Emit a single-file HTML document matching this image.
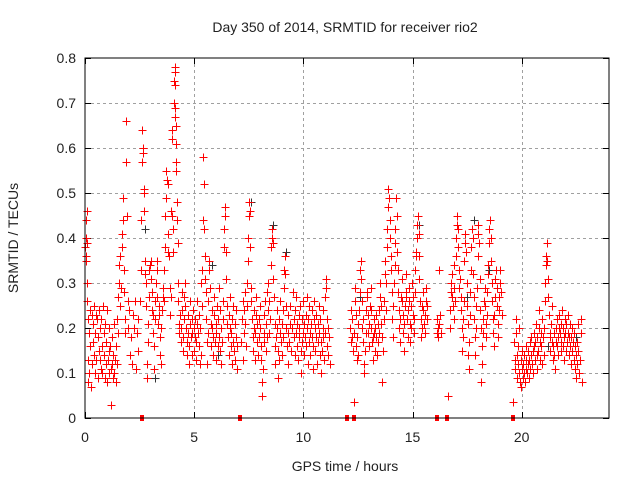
<!DOCTYPE html>
<html><head><meta charset="utf-8">
<style>
html,body{margin:0;padding:0;background:#fff;}
svg{display:block;font-family:"Liberation Sans",sans-serif;}
</style></head>
<body>
<svg id="chart" width="640" height="480" viewBox="0 0 640 480">
  <rect x="0" y="0" width="640" height="480" fill="#fff"/>
  <text x="345" y="32" text-anchor="middle" font-size="14" fill="#222">Day 350 of 2014, SRMTID for receiver rio2</text>
  <text x="345" y="471" text-anchor="middle" font-size="14" fill="#222">GPS time / hours</text>
  <text transform="translate(18,238) rotate(-90)" text-anchor="middle" font-size="14" fill="#222">SRMTID / TECUs</text>
  <g id="grid" shape-rendering="crispEdges"></g>
  <g id="ticks"></g>
  <g id="marks" shape-rendering="crispEdges"></g>
  <rect x="85" y="58" width="524" height="360" fill="none" stroke="#000" stroke-width="1" shape-rendering="crispEdges"/>
</svg>
<script>
const xTicks = [0,5,10,15,20];
const yTicks = [0,0.1,0.2,0.3,0.4,0.5,0.6,0.7,0.8];
const yTickLabels = ["0","0.1","0.2","0.3","0.4","0.5","0.6","0.7","0.8"];
const gapMarks = [2.6,7.1,12.0,12.3,16.1,16.6,19.6];
const blackPoints = [[0.05,.44],[2.75,.42],[3.2,.09],[5.8,.34],[6.1,.14],[7.6,.48],[8.6,.43],[9.2,.37],[12.6,.27],[15.3,.43],[16.2,.33],[17.5,.27],[17.8,.44],[18.5,.33],[21.2,.16],[22.5,.18]];
const redPoints = [
[0.02,.38],[.03,.40],[.05,.36],[.06,.44],[.08,.46],[.04,.35],[.07,.39],[.1,.30],[.1,.26],[.12,.22],[.15,.13],[.15,.08],[.18,.10],[.2,.19],[.22,.24],[.25,.16],[.28,.07],[.3,.12],[.32,.23],[.35,.21],[.38,.17],[.4,.14],[.42,.25],[.45,.19],[.48,.10],[.5,.23],[.52,.13],[.55,.22],[.58,.18],[.6,.09],[.62,.15],[.65,.24],[.68,.20],[.7,.13],[.72,.11],[.75,.22],[.78,.16],[.8,.10],[.82,.25],[.85,.19],[.88,.14],[.9,.09],[.92,.21],[.95,.12],[.98,.17],[1.0,.08],[1.02,.24],[1.05,.13],[1.08,.20],[1.1,.10],[1.12,.15],[1.15,.16],[1.18,.11],[1.2,.03],[1.22,.12],[1.25,.18],[1.28,.09],[1.3,.14],[1.32,.21],[1.35,.10],[1.38,.13],[1.4,.08],[1.42,.16],[1.45,.12],[1.48,.22],[1.5,.19],[1.52,.27],[1.55,.30],[1.58,.34],[1.6,.36],[1.62,.25],[1.65,.29],[1.68,.38],[1.7,.41],[1.72,.44],[1.75,.49],[1.78,.28],[1.8,.33],[1.82,.19],[1.85,.22],[1.88,.57],[1.9,.66],[1.92,.45],[1.95,.26],[1.98,.20],[2.0,.24],[2.05,.14],[2.1,.18],[2.15,.12],[2.2,.23],[2.25,.20],[2.3,.26],[2.35,.11],[2.4,.19],
[2.42,.15],[2.45,.22],[2.5,.26],[2.55,.33],[2.58,.44],[2.6,.57],[2.62,.64],[2.64,.60],[2.66,.59],[2.68,.51],[2.7,.50],[2.72,.46],[2.74,.35],[2.76,.32],[2.78,.30],[2.8,.25],[2.82,.12],[2.85,.09],[2.88,.17],[2.9,.21],[2.92,.27],[2.95,.33],[2.98,.34],[3.0,.35],[3.02,.31],[3.05,.24],[3.08,.28],[3.1,.19],[3.12,.23],[3.15,.16],[3.18,.11],[3.2,.26],[3.22,.22],[3.25,.30],[3.28,.33],[3.3,.35],[3.32,.27],[3.35,.21],[3.38,.25],[3.4,.23],[3.42,.18],[3.45,.14],[3.48,.12],[3.5,.20],
[3.52,.24],[3.55,.27],[3.58,.29],[3.6,.26],[3.62,.33],[3.65,.38],[3.68,.45],[3.7,.49],[3.72,.55],[3.75,.53],[3.78,.52],[3.8,.41],[3.82,.37],[3.85,.36],[3.88,.29],[3.9,.23],[3.92,.27],[3.95,.46],[3.97,.62],[3.99,.64],[4.0,.45],[4.02,.42],[4.04,.37],[4.06,.70],[4.08,.75],[4.1,.78],[4.11,.77],[4.12,.74],[4.13,.69],[4.14,.67],[4.15,.65],[4.16,.61],[4.17,.57],[4.18,.55],[4.2,.48],[4.22,.44],[4.24,.39],[4.26,.30],[4.28,.26],[4.3,.21],[4.32,.19],[4.35,.23],[4.38,.17],[4.4,.20],
[4.42,.28],[4.45,.24],[4.48,.18],[4.5,.15],[4.52,.22],[4.55,.27],[4.58,.30],[4.6,.25],[4.62,.20],[4.65,.17],[4.68,.14],[4.7,.19],[4.72,.23],[4.75,.16],[4.78,.12],[4.8,.21],[4.82,.26],[4.85,.18],[4.88,.14],[4.9,.22],[4.92,.19],[4.95,.24],[4.98,.15],[5.0,.20],[5.02,.18],[5.05,.22],[5.08,.13],[5.1,.17],[5.12,.26],[5.15,.21],[5.18,.19],[5.2,.16],[5.22,.23],[5.25,.12],[5.28,.20],[5.3,.14],
[5.32,.30],[5.35,.33],[5.38,.25],[5.4,.44],[5.42,.58],[5.44,.52],[5.46,.42],[5.48,.36],[5.5,.31],[5.52,.28],[5.55,.22],[5.58,.17],[5.6,.12],[5.62,.19],[5.65,.26],[5.68,.35],[5.7,.33],[5.72,.29],[5.75,.21],[5.78,.16],[5.8,.24],[5.82,.20],[5.85,.14],[5.88,.18],[5.9,.27],[5.92,.23],[5.95,.17],[5.98,.21],[6.0,.13],[6.02,.19],[6.05,.25],[6.08,.16],[6.1,.22],[6.12,.18],[6.15,.29],[6.18,.24],[6.2,.15],[6.22,.20],[6.25,.12],[6.28,.17],
[6.3,.22],[6.32,.26],[6.35,.38],[6.38,.42],[6.4,.47],[6.42,.45],[6.44,.37],[6.46,.31],[6.5,.25],[6.52,.21],[6.55,.18],[6.58,.14],[6.6,.23],[6.62,.27],[6.65,.20],[6.68,.16],[6.7,.19],[6.72,.12],[6.75,.22],[6.78,.25],[6.8,.17],[6.82,.15],[6.85,.21],[6.88,.13],[6.9,.18],[6.92,.24],[6.95,.11],[6.98,.16],
[7.15,.17],[7.2,.22],[7.22,.26],[7.25,.13],[7.28,.19],[7.3,.24],
[7.32,.28],[7.35,.21],[7.38,.16],[7.4,.25],[7.42,.30],[7.45,.35],[7.48,.40],[7.5,.45],[7.52,.48],[7.55,.46],[7.58,.38],[7.6,.29],[7.62,.26],[7.65,.22],[7.68,.18],[7.7,.15],[7.72,.20],[7.75,.24],[7.78,.13],[7.8,.19],[7.82,.23],[7.85,.27],[7.88,.21],[7.9,.17],[7.92,.14],[7.95,.22],[7.98,.18],[8.0,.25],[8.02,.20],[8.05,.13],[8.08,.16],[8.1,.08],[8.12,.05],[8.15,.11],[8.18,.19],[8.2,.23],[8.22,.17],[8.25,.26],[8.28,.21],[8.3,.15],[8.32,.18],[8.35,.28],[8.38,.24],
[8.4,.30],[8.42,.26],[8.45,.19],[8.48,.22],[8.5,.34],[8.52,.38],[8.55,.40],[8.58,.42],[8.6,.39],[8.62,.31],[8.65,.27],[8.68,.21],[8.7,.16],[8.72,.12],[8.75,.18],[8.78,.24],[8.8,.20],[8.82,.15],[8.85,.09],[8.88,.13],[8.9,.22],[8.92,.19],[8.95,.26],[8.98,.17],[9.0,.21],[9.02,.14],[9.05,.24],[9.08,.18],[9.1,.29],[9.12,.33],[9.15,.36],[9.18,.32],[9.2,.25],[9.22,.20],[9.25,.16],[9.28,.12],[9.3,.19],[9.32,.23],[9.35,.17],[9.38,.21],
[9.4,.25],[9.45,.15],[9.5,.20],[9.52,.28],[9.55,.22],[9.58,.18],[9.6,.14],[9.62,.24],[9.65,.19],[9.68,.27],[9.7,.21],[9.72,.16],[9.75,.13],[9.78,.23],[9.8,.18],[9.82,.20],[9.85,.25],[9.88,.15],[9.9,.10],[9.92,.17],[9.95,.22],[9.98,.19],[10.0,.26],[10.02,.21],[10.05,.14],[10.08,.18],[10.1,.23],[10.12,.16],[10.15,.20],[10.18,.27],[10.2,.22],[10.22,.12],[10.25,.17],[10.28,.25],[10.3,.19],[10.32,.14],[10.35,.21],[10.38,.24],[10.4,.18],[10.42,.11],[10.45,.16],[10.48,.22],[10.5,.26],[10.52,.20],[10.55,.15],[10.58,.18],[10.6,.23],[10.62,.12],[10.65,.17],[10.68,.21],[10.7,.25],[10.72,.19],[10.75,.14],[10.78,.22],[10.8,.17],[10.82,.10],[10.85,.15],[10.88,.20],[10.9,.24],[10.92,.18],[10.95,.13],[10.98,.19],[11.0,.27],[11.02,.29],[11.05,.31],[11.08,.22],[11.1,.16],[11.12,.20],[11.15,.14],[11.18,.18],[11.2,.12],
[12.15,.20],[12.18,.17],[12.2,.24],[12.22,.18],[12.25,.22],[12.28,.15],[12.3,.035],[12.32,.19],[12.35,.26],[12.38,.29],[12.4,.23],[12.42,.16],[12.45,.13],[12.48,.18],[12.5,.21],[12.52,.14],[12.55,.24],[12.58,.28],[12.6,.33],[12.62,.35],[12.65,.31],[12.68,.26],[12.7,.20],[12.72,.22],[12.75,.17],[12.78,.12],[12.8,.10],[12.82,.15],[12.85,.19],[12.88,.24],[12.9,.28],[12.92,.27],[12.95,.23],[12.98,.19],[13.0,.16],[13.02,.21],[13.05,.25],[13.08,.29],[13.1,.24],[13.12,.20],[13.15,.17],[13.18,.13],[13.2,.18],[13.22,.22],[13.25,.19],[13.28,.15],[13.3,.20],[13.32,.23],[13.35,.18],[13.38,.14],[13.4,.17],[13.42,.21],[13.45,.24],[13.48,.19],[13.5,.27],[13.52,.30],[13.55,.25],[13.58,.21],[13.6,.18],[13.62,.08],[13.65,.15],[13.68,.22],[13.7,.26],[13.72,.32],[13.75,.35],[13.78,.30],[13.8,.24],[13.82,.38],[13.85,.42],[13.88,.47],[13.9,.51],[13.92,.49],[13.95,.44],[13.98,.40],[14.0,.36],[14.02,.33],[14.05,.28],[14.08,.22],[14.1,.18],[14.12,.25],[14.15,.30],[14.18,.34],[14.2,.39],[14.22,.42],[14.25,.49],[14.28,.45],[14.3,.37],[14.32,.33],[14.35,.28],[14.38,.24],[14.4,.20],[14.42,.17],[14.45,.22],[14.48,.27],[14.5,.31],[14.52,.26],[14.55,.23],[14.58,.19],[14.6,.15],[14.62,.21],[14.65,.25],[14.68,.28],[14.7,.32],[14.72,.27],[14.75,.22],[14.78,.18],[14.8,.24],[14.82,.29],[14.85,.26],[14.88,.21],[14.9,.17],[14.92,.20],[14.95,.25],[14.98,.30],[15.0,.27],[15.02,.23],[15.05,.19],[15.08,.22],[15.1,.28],[15.12,.33],[15.15,.37],[15.18,.36],[15.2,.40],[15.22,.43],[15.25,.45],[15.28,.41],[15.3,.36],[15.32,.31],[15.35,.26],[15.38,.22],[15.4,.18],[15.42,.20],[15.45,.25],[15.48,.28],[15.5,.24],[15.52,.21],[15.55,.19],[15.58,.23],[15.6,.26],[15.62,.29],[15.65,.25],[15.68,.22],
[16.1,.22],[16.12,.19],[16.15,.18],[16.18,.20],[16.2,.33],[16.22,.21],[16.25,.23],[16.3,.19],[16.62,.05],
[16.7,.20],[16.72,.24],[16.75,.28],[16.78,.30],[16.8,.27],[16.82,.32],[16.85,.25],[16.88,.22],[16.9,.34],[16.92,.29],[16.95,.26],[16.98,.36],[17.0,.40],[17.02,.43],[17.05,.45],[17.08,.42],[17.1,.38],[17.12,.33],[17.15,.29],[17.18,.31],[17.2,.27],[17.22,.24],[17.25,.20],[17.28,.15],[17.3,.18],[17.32,.22],[17.35,.26],[17.38,.35],[17.4,.39],[17.42,.41],[17.45,.37],[17.48,.30],[17.5,.25],[17.52,.21],[17.55,.14],[17.58,.11],[17.6,.17],[17.62,.23],[17.65,.28],[17.68,.33],[17.7,.38],[17.72,.42],[17.75,.40],[17.78,.32],[17.8,.27],[17.82,.22],[17.85,.18],[17.88,.14],[17.9,.20],[17.92,.25],[17.95,.29],[17.98,.36],[18.0,.41],[18.02,.43],[18.05,.39],[18.08,.31],[18.1,.24],[18.12,.20],[18.15,.08],[18.18,.12],[18.2,.16],[18.22,.19],[18.25,.22],[18.28,.26],[18.3,.29],[18.32,.25],[18.35,.21],[18.38,.18],[18.4,.23],[18.42,.28],[18.45,.32],[18.48,.34],[18.5,.39],[18.52,.42],[18.55,.44],[18.58,.40],[18.6,.35],[18.62,.30],[18.65,.26],[18.68,.22],[18.7,.19],[18.72,.16],[18.75,.23],[18.78,.27],[18.8,.31],[18.82,.33],[18.85,.29],[18.88,.25],[18.9,.21],[18.92,.18],[18.95,.24],[18.98,.27],[19.0,.30],[19.02,.33],[19.05,.28],[19.08,.23],
[19.6,.035],[19.65,.17],[19.68,.13],[19.7,.11],[19.72,.19],[19.75,.22],[19.78,.14],[19.8,.09],[19.82,.12],[19.85,.16],[19.88,.20],[19.9,.10],[19.92,.08],[19.95,.13],[19.98,.07],[20.0,.11],[20.02,.15],[20.05,.09],[20.08,.12],[20.1,.10],[20.12,.14],[20.15,.08],[20.18,.11],[20.2,.13],[20.22,.16],[20.25,.10],[20.28,.12],[20.3,.15],[20.32,.09],[20.35,.13],[20.38,.17],[20.4,.11],[20.42,.14],[20.45,.18],[20.48,.12],[20.5,.15],[20.52,.10],[20.55,.16],[20.58,.19],[20.6,.13],[20.62,.17],[20.65,.21],[20.68,.14],[20.7,.11],[20.72,.18],[20.75,.15],[20.78,.20],[20.8,.24],[20.82,.17],[20.85,.13],[20.88,.19],[20.9,.16],[20.92,.12],[20.95,.22],[20.98,.18],[21.0,.14],[21.02,.20],[21.05,.26],[21.08,.30],[21.1,.34],[21.12,.36],[21.15,.39],[21.18,.35],[21.2,.31],[21.22,.27],[21.25,.23],[21.28,.19],[21.3,.15],[21.32,.18],[21.35,.21],[21.38,.25],[21.4,.17],[21.42,.13],[21.45,.16],[21.48,.19],[21.5,.14],[21.52,.11],[21.55,.17],[21.58,.20],[21.6,.16],[21.62,.22],[21.65,.18],[21.68,.14],[21.7,.20],[21.72,.23],[21.75,.19],[21.78,.15],[21.8,.21],[21.82,.17],[21.85,.24],[21.88,.20],[21.9,.16],[21.92,.13],[21.95,.18],[21.98,.22],[22.0,.19],[22.02,.15],[22.05,.21],[22.08,.17],[22.1,.23],[22.12,.19],[22.15,.14],[22.18,.18],[22.2,.21],[22.22,.16],[22.25,.12],[22.28,.18],[22.3,.15],[22.32,.20],[22.35,.17],[22.38,.13],[22.4,.19],[22.42,.16],[22.45,.11],[22.48,.14],[22.5,.09],[22.52,.12],[22.55,.17],[22.58,.21],[22.6,.15],[22.62,.10],[22.65,.13],[22.7,.22],[22.72,.19],[22.75,.08]
];

const NS = "http://www.w3.org/2000/svg";
const X0 = 85, X1 = 609, Y0 = 418, Y1 = 58, XMAX = 24, YMAX = 0.8;
function xScale(h){ return X0 + (h / XMAX) * (X1 - X0); }
function yScale(v){ return Y0 - (v / YMAX) * (Y0 - Y1); }
function mk(tag, attrs){ const e = document.createElementNS(NS, tag); for (const k in attrs) e.setAttribute(k, attrs[k]); return e; }

const grid = document.getElementById('grid');
const ticks = document.getElementById('ticks');
const marks = document.getElementById('marks');

yTicks.forEach((v, i) => {
  const y = Math.round(yScale(v)) + 0.5;
  if (v > 0 && v < YMAX) {
    const g = mk('line', {x1: X0, x2: X1, y1: y, y2: y, stroke: '#a0a0a0', 'stroke-dasharray': '3,3', 'stroke-width': 1});
    
    
    grid.appendChild(g);
  }
  const t = mk('line', {x1: X0, x2: X0 + 6, y1: y, y2: y, stroke: '#000', 'shape-rendering': 'crispEdges'});
  
  
  ticks.appendChild(t);
  const t2 = mk('line', {x1: X1 - 6, x2: X1, y1: y, y2: y, stroke: '#000', 'shape-rendering': 'crispEdges'});
  
  
  ticks.appendChild(t2);
  const lab = mk('text', {x: X0 - 9, y: yScale(v) + 5, 'text-anchor': 'end', 'font-size': 14, fill: '#222'});
  lab.textContent = yTickLabels[i];
  
  
  ticks.appendChild(lab);
});

xTicks.forEach(h => {
  const x = Math.round(xScale(h)) + 0.5;
  if (h > 0) {
    const g = mk('line', {x1: x, x2: x, y1: Y1, y2: Y0, stroke: '#a0a0a0', 'stroke-dasharray': '3,3', 'stroke-width': 1});
    
    
    grid.appendChild(g);
  }
  const t = mk('line', {x1: x, x2: x, y1: Y0, y2: Y0 - 6, stroke: '#000', 'shape-rendering': 'crispEdges'});
  
  
  ticks.appendChild(t);
  const t2 = mk('line', {x1: x, x2: x, y1: Y1, y2: Y1 + 6, stroke: '#000', 'shape-rendering': 'crispEdges'});
  
  
  ticks.appendChild(t2);
  const lab = mk('text', {x: xScale(h), y: Y0 + 24, 'text-anchor': 'middle', 'font-size': 14, fill: '#222'});
  lab.textContent = String(h);
  
  
  ticks.appendChild(lab);
});

function plus(h, v, color, name){
  const x = Math.round(xScale(h)) + 0.5, y = Math.round(yScale(v)) + 0.5;
  const p = mk('path', {d: `M${x-4},${y}H${x+4}M${x},${y-4}V${y+4}`, stroke: color, 'stroke-width': 1, fill: 'none'});
  
  
  marks.appendChild(p);
}
blackPoints.forEach(d => plus(d[0], d[1], '#333', 'black-point'));
redPoints.forEach(d => plus(d[0], d[1], '#ff0000', 'red-point'));

gapMarks.forEach(h => {
  const r = mk('rect', {x: Math.round(xScale(h)) - 2, y: Y0 - 3, width: 4, height: 6, fill: '#ff0000'});
  
  
  marks.appendChild(r);
});
</script>
</body></html>
